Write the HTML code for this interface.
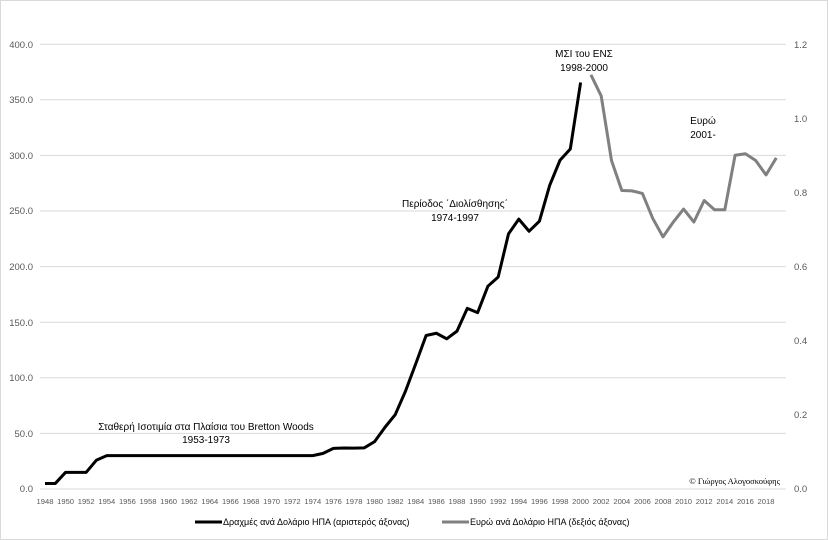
<!DOCTYPE html>
<html><head><meta charset="utf-8"><style>
html,body{margin:0;padding:0;background:#fff}
svg{display:block;font-family:"Liberation Sans",sans-serif}
</style></head><body>
<svg width="828" height="540" viewBox="0 0 828 540" xmlns="http://www.w3.org/2000/svg">
<rect x="0.5" y="0.5" width="827" height="539" fill="#fff" stroke="#d9d9d9"/>
<g stroke="#d9d9d9" stroke-width="1">
<line x1="40" x2="786" y1="489" y2="489"/>
<line x1="40" x2="786" y1="433.4" y2="433.4"/>
<line x1="40" x2="786" y1="377.8" y2="377.8"/>
<line x1="40" x2="786" y1="322.2" y2="322.2"/>
<line x1="40" x2="786" y1="266.6" y2="266.6"/>
<line x1="40" x2="786" y1="211" y2="211"/>
<line x1="40" x2="786" y1="155.4" y2="155.4"/>
<line x1="40" x2="786" y1="99.8" y2="99.8"/>
<line x1="40" x2="786" y1="44.2" y2="44.2"/>
</g>
<g font-size="9.5" fill="#595959" text-anchor="end">
<text x="33" y="492">0.0</text><text x="33" y="437">50.0</text><text x="33" y="381">100.0</text>
<text x="33" y="326">150.0</text><text x="33" y="270">200.0</text><text x="33" y="214">250.0</text>
<text x="33" y="159">300.0</text><text x="33" y="103">350.0</text><text x="33" y="48">400.0</text>
</g>
<g font-size="9.5" fill="#595959">
<text x="794" y="492">0.0</text><text x="794" y="418">0.2</text><text x="794" y="344">0.4</text>
<text x="794" y="270">0.6</text><text x="794" y="196">0.8</text><text x="794" y="122">1.0</text><text x="794" y="48">1.2</text>
</g>
<g font-size="7.6" fill="#595959" text-anchor="middle" id="yrs"></g>
<g transform="translate(45,489) scale(10.3,-1.1125)">
<polyline fill="none" stroke="#000" stroke-width="3" vector-effect="non-scaling-stroke" stroke-linejoin="round"
points="0,5 1,5 2,15 3,15 4,15 5,26 6,30 25,30 26,30 27,32 28,36.5 29,36.8 30,36.7 31,37 32,42.6 33,55.4 34,66.8 35,88 36,112.7 37,138 38,140 39,135 40,141.9 41,162.4 42,158.5 43,182.3 44,190.6 45,229.3 46,242.6 47,231.7 48,240.7 49,273 50,295.5 51,305.6 52,365.4"/>
</g>
<g transform="translate(45,489) scale(10.3,-370.8)">
<polyline fill="none" stroke="#808080" stroke-width="3" vector-effect="non-scaling-stroke" stroke-linejoin="round"
points="53,1.117 54,1.06 55,0.886 56,0.805 57,0.804 58,0.797 59,0.73 60,0.68 61,0.72 62,0.755 63,0.72 64,0.778 65,0.753 66,0.753 67,0.90 68,0.904 69,0.886 70,0.847 71,0.893"/>
</g>
<g font-size="10" fill="#000" text-anchor="middle">
<text x="206" y="430">Σταθερή Ισοτιμία στα Πλαίσια του Bretton Woods</text>
<text x="206" y="443">1953-1973</text>
<text x="455" y="207">Περίοδος ΄Διολίσθησης΄</text>
<text x="455" y="221">1974-1997</text>
<text x="584" y="57">ΜΣΙ του ΕΝΣ</text>
<text x="584" y="71">1998-2000</text>
<text x="703" y="124">Ευρώ</text>
<text x="703" y="138">2001-</text>
</g>
<text x="780" y="484" font-size="8.5" font-family="Liberation Serif,serif" text-anchor="end">© Γιώργος Αλογοσκούφης</text>
<line x1="195" x2="222" y1="522" y2="522" stroke="#000" stroke-width="3"/>
<text x="223" y="525" font-size="9" fill="#000">Δραχμές ανά Δολάριο ΗΠΑ (αριστερός άξονας)</text>
<line x1="442" x2="469" y1="522" y2="522" stroke="#808080" stroke-width="3"/>
<text x="470" y="525" font-size="9" fill="#000">Ευρώ ανά Δολάριο ΗΠΑ (δεξιός άξονας)</text>
<g font-size="7.6" fill="#595959" text-anchor="middle">
<text x="45" y="504">1948</text><text x="65.6" y="504">1950</text><text x="86.2" y="504">1952</text><text x="106.8" y="504">1954</text>
<text x="127.4" y="504">1956</text><text x="148" y="504">1958</text><text x="168.6" y="504">1960</text><text x="189.2" y="504">1962</text>
<text x="209.8" y="504">1964</text><text x="230.4" y="504">1966</text><text x="251" y="504">1968</text><text x="271.6" y="504">1970</text>
<text x="292.2" y="504">1972</text><text x="312.8" y="504">1974</text><text x="333.4" y="504">1976</text><text x="354" y="504">1978</text>
<text x="374.6" y="504">1980</text><text x="395.2" y="504">1982</text><text x="415.8" y="504">1984</text><text x="436.4" y="504">1986</text>
<text x="457" y="504">1988</text><text x="477.6" y="504">1990</text><text x="498.2" y="504">1992</text><text x="518.8" y="504">1994</text>
<text x="539.4" y="504">1996</text><text x="560" y="504">1998</text><text x="580.6" y="504">2000</text><text x="601.2" y="504">2002</text>
<text x="621.8" y="504">2004</text><text x="642.4" y="504">2006</text><text x="663" y="504">2008</text><text x="683.6" y="504">2010</text>
<text x="704.2" y="504">2012</text><text x="724.8" y="504">2014</text><text x="745.4" y="504">2016</text><text x="766" y="504">2018</text>
</g>
</svg>
</body></html>
